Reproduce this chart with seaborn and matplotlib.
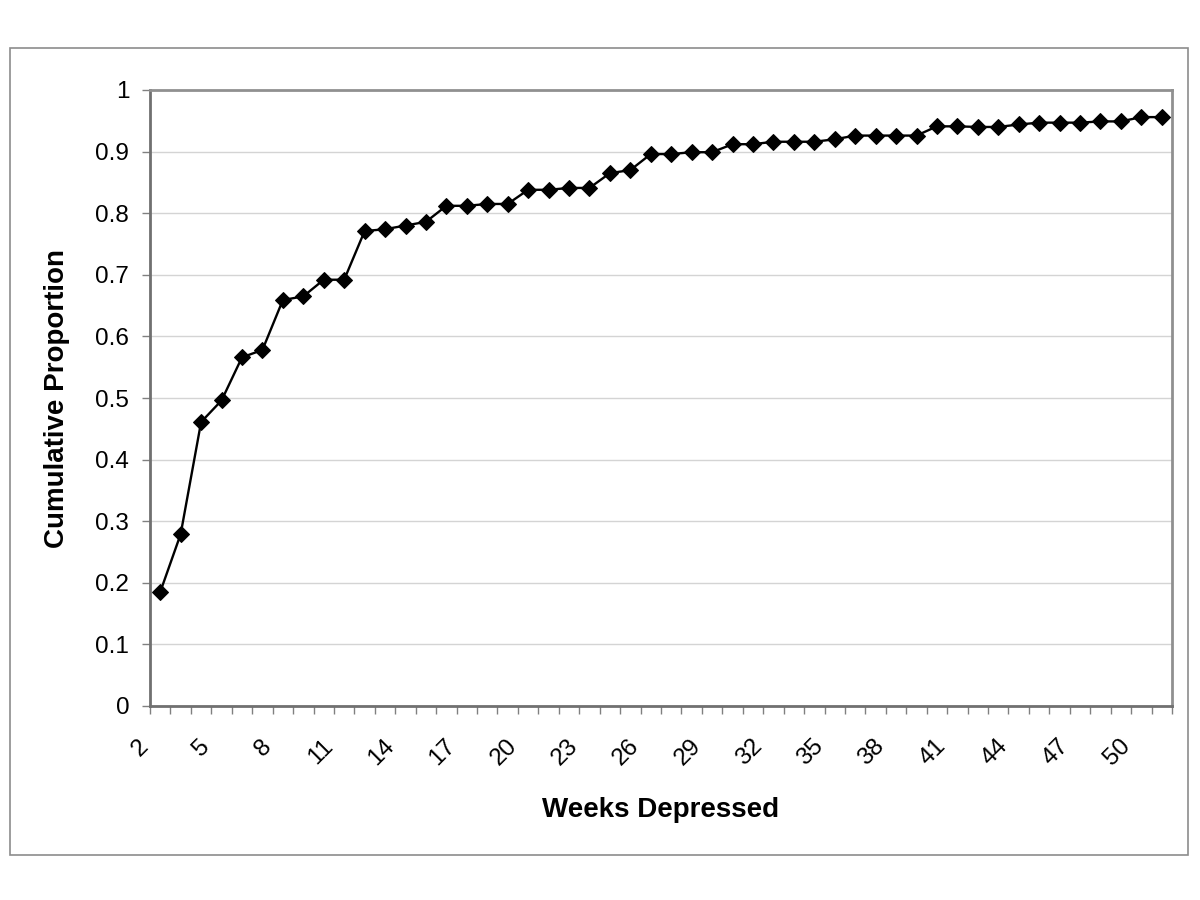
import numpy as np
import pandas as pd
import matplotlib
matplotlib.use("Agg")
import matplotlib.pyplot as plt
import matplotlib.patches as mpatches
from matplotlib.transforms import ScaledTranslation
import seaborn as sns

weeks = list(range(2, 52))
cum_prop = [0.185, 0.279, 0.461, 0.496, 0.566, 0.578, 0.659, 0.665, 0.692, 0.692,
            0.771, 0.774, 0.780, 0.786, 0.812, 0.812, 0.815, 0.815, 0.838, 0.838,
            0.841, 0.841, 0.865, 0.870, 0.896, 0.896, 0.899, 0.899, 0.912, 0.912,
            0.916, 0.916, 0.916, 0.920, 0.926, 0.926, 0.926, 0.926, 0.941, 0.941,
            0.940, 0.940, 0.944, 0.947, 0.947, 0.947, 0.949, 0.949, 0.956, 0.956]
y_ticks = [0, 0.1, 0.2, 0.3, 0.4, 0.5, 0.6, 0.7, 0.8, 0.9, 1]
y_tick_labels = ["0", "0.1", "0.2", "0.3", "0.4", "0.5", "0.6", "0.7", "0.8", "0.9", "1"]
x_label = "Weeks Depressed"
y_label = "Cumulative Proportion"

sns.set_style("white")
plt.rcParams['font.family'] = ['Liberation Sans', 'DejaVu Sans']
plt.rcParams['text.color'] = 'black'
plt.rcParams['axes.labelcolor'] = 'black'
plt.rcParams['xtick.color'] = 'black'
plt.rcParams['ytick.color'] = 'black'

fig = plt.figure(figsize=(12, 9), dpi=100)
ax = fig.add_axes([150/1200, 1 - 706/900, (1172-150)/1200, (706-90)/900])

pos = np.arange(len(weeks))
df = pd.DataFrame({"pos": pos, "val": cum_prop})
sns.lineplot(data=df, x="pos", y="val", ax=ax, color="black", linewidth=1.7,
             marker="D", markersize=8.5, markeredgecolor="black", markerfacecolor="black")

ax.set_xlim(-0.5, len(weeks) - 0.5)
ax.set_ylim(0, 1)

# gridlines
ax.set_yticks(y_ticks)
ax.set_yticklabels(y_tick_labels, fontsize=17.5)
ax.yaxis.grid(True, color="#d4d4d4", linewidth=1)
ax.xaxis.grid(False)
ax.set_axisbelow(True)
ax.tick_params(axis="y", which="major", direction="out", length=6, width=1,
               color="#808080", labelcolor="black", pad=9, left=True)

# x ticks: labels at every 3rd category centre, tick marks at boundaries
label_idx = list(range(0, len(weeks), 3))
ax.set_xticks(label_idx)
ax.set_xticklabels([str(weeks[i]) for i in label_idx], fontsize=17.5, rotation=45,
                   ha="right", va="top")
ax.set_xticks(np.arange(-0.5, len(weeks), 1.0), minor=True)
ax.tick_params(axis="x", which="major", length=0, pad=21, labelcolor="black")
ax.tick_params(axis="x", which="minor", direction="out", length=6, width=1,
               color="#808080", bottom=True)
for lbl in ax.get_xticklabels():
    lbl.set_transform(lbl.get_transform() + ScaledTranslation(-7/100, 0, fig.dpi_scale_trans))

for s in ["left", "bottom"]:
    ax.spines[s].set_color("#707070")
    ax.spines[s].set_linewidth(2)
for s in ["top", "right"]:
    ax.spines[s].set_visible(True)
    ax.spines[s].set_color("#909090")
    ax.spines[s].set_linewidth(2)

ax.set_xlabel(x_label, fontsize=20, fontweight="bold", color="black")
ax.set_ylabel(y_label, fontsize=20, fontweight="bold", color="black")
ax.xaxis.set_label_coords(0.5, -0.148)
ax.yaxis.set_label_coords(-0.078, 0.5)

# outer chart border
fig.patches.append(mpatches.Rectangle((10/1200, 1 - 855/900), (1188-10)/1200, (855-48)/900,
                                      transform=fig.transFigure, fill=False,
                                      edgecolor="#8c8c8c", linewidth=1.2))

fig.savefig("out.png", dpi=100)
